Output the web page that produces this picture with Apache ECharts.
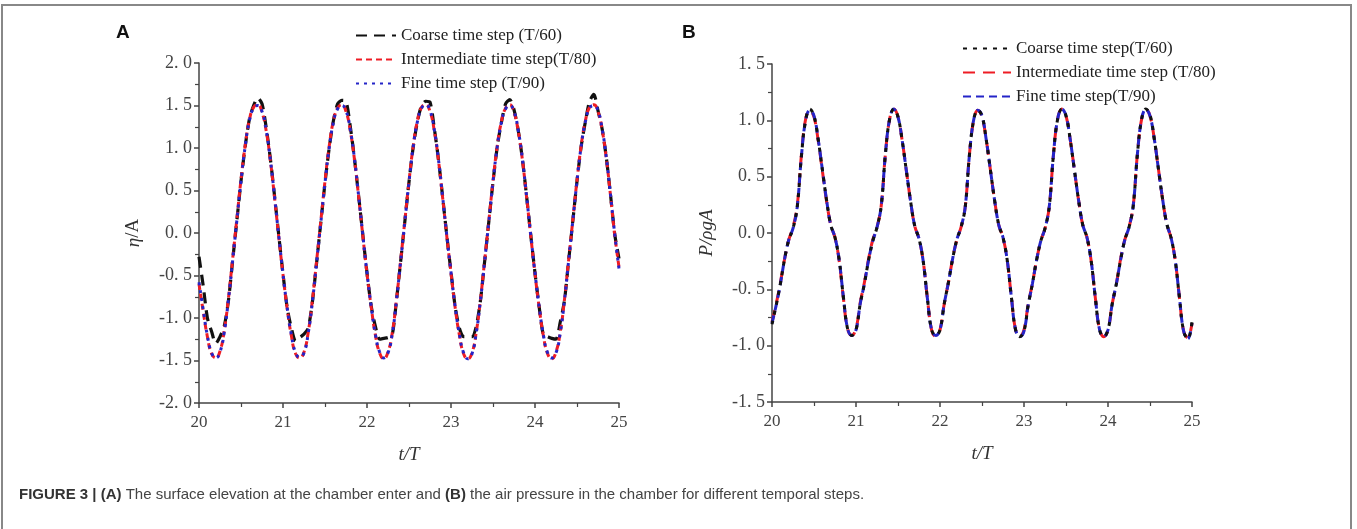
<!DOCTYPE html>
<html>
<head>
<meta charset="utf-8">
<script src="https://cdn.jsdelivr.net/npm/echarts@6/dist/echarts.min.js"></script>
<style>
html,body{margin:0;padding:0;background:#fff;}
#chart{width:1357px;height:529px;}
</style>
</head>
<body>
<div id="chart"></div>
<script>
// ---------- data ----------
const TIMES = [
20.00,20.05,20.10,20.15,20.20,20.25,20.30,20.35,20.40,20.45,20.50,20.55,20.60,20.65,20.70,20.75,20.80,20.85,20.90,20.95,
21.00,21.05,21.10,21.15,21.20,21.25,21.30,21.35,21.40,21.45,21.50,21.55,21.60,21.65,21.70,21.75,21.80,21.85,21.90,21.95,
22.00,22.05,22.10,22.15,22.20,22.25,22.30,22.35,22.40,22.45,22.50,22.55,22.60,22.65,22.70,22.75,22.80,22.85,22.90,22.95,
23.00,23.05,23.10,23.15,23.20,23.25,23.30,23.35,23.40,23.45,23.50,23.55,23.60,23.65,23.70,23.75,23.80,23.85,23.90,23.95,
24.00,24.05,24.10,24.15,24.20,24.25,24.30,24.35,24.40,24.45,24.50,24.55,24.60,24.65,24.70,24.75,24.80,24.85,24.90,24.95,
25.00];

// Panel A: surface elevation eta/A
const A_COARSE = [
-0.28,-0.62,-1.00,-1.16,-1.30,-1.22,-1.10,-0.80,-0.33,0.14,0.61,1.02,1.34,1.50,1.59,1.52,1.24,0.87,0.43,-0.03,
-0.48,-0.88,-1.12,-1.27,-1.23,-1.19,-1.12,-0.81,-0.35,0.12,0.59,1.00,1.32,1.52,1.56,1.55,1.26,0.88,0.44,-0.02,
-0.47,-0.86,-1.10,-1.25,-1.24,-1.23,-1.20,-0.80,-0.34,0.13,0.60,1.01,1.31,1.50,1.55,1.54,1.24,0.87,0.43,-0.03,
-0.46,-0.87,-1.12,-1.22,-1.22,-1.22,-1.10,-0.80,-0.34,0.13,0.60,1.01,1.30,1.52,1.57,1.45,1.21,0.87,0.43,-0.03,
-0.47,-0.87,-1.20,-1.22,-1.24,-1.25,-1.05,-0.80,-0.33,0.14,0.61,1.02,1.31,1.55,1.63,1.44,1.22,0.88,0.44,-0.02,
-0.30];
const A_INTER = [
-0.60,-0.92,-1.22,-1.42,-1.47,-1.39,-1.15,-0.77,-0.31,0.16,0.63,1.03,1.33,1.48,1.51,1.42,1.20,0.85,0.41,-0.05,
-0.49,-0.89,-1.21,-1.42,-1.47,-1.40,-1.17,-0.79,-0.33,0.14,0.61,1.02,1.32,1.47,1.51,1.43,1.21,0.87,0.43,-0.03,
-0.48,-0.87,-1.20,-1.41,-1.48,-1.40,-1.18,-0.79,-0.33,0.14,0.61,1.02,1.32,1.48,1.51,1.43,1.21,0.86,0.42,-0.04,
-0.47,-0.88,-1.20,-1.42,-1.48,-1.41,-1.17,-0.79,-0.33,0.14,0.61,1.02,1.31,1.47,1.51,1.42,1.20,0.86,0.42,-0.04,
-0.48,-0.88,-1.21,-1.42,-1.48,-1.40,-1.17,-0.79,-0.32,0.15,0.62,1.03,1.32,1.48,1.51,1.43,1.21,0.87,0.43,-0.03,
-0.40];
const A_FINE = [
-0.58,-0.90,-1.21,-1.41,-1.47,-1.40,-1.17,-0.79,-0.33,0.14,0.61,1.02,1.32,1.47,1.50,1.43,1.21,0.86,0.42,-0.04,
-0.48,-0.88,-1.20,-1.41,-1.46,-1.41,-1.18,-0.81,-0.35,0.12,0.59,1.00,1.30,1.46,1.50,1.44,1.22,0.88,0.44,-0.02,
-0.47,-0.86,-1.19,-1.40,-1.47,-1.41,-1.19,-0.80,-0.34,0.13,0.60,1.01,1.31,1.47,1.51,1.44,1.22,0.87,0.43,-0.03,
-0.46,-0.87,-1.19,-1.41,-1.48,-1.42,-1.18,-0.80,-0.34,0.13,0.60,1.01,1.30,1.46,1.50,1.43,1.21,0.87,0.43,-0.03,
-0.47,-0.87,-1.20,-1.41,-1.47,-1.41,-1.18,-0.80,-0.33,0.14,0.61,1.02,1.31,1.47,1.50,1.44,1.22,0.88,0.44,-0.02,
-0.42];

// Panel B: air pressure P/(rho g A)
const B_COARSE = [
-0.81,-0.64,-0.45,-0.23,-0.06,0.04,0.23,0.68,1.00,1.10,1.04,0.83,0.56,0.29,0.07,-0.04,-0.24,-0.57,-0.85,-0.91,
-0.86,-0.63,-0.45,-0.24,-0.07,0.05,0.24,0.70,1.01,1.10,1.03,0.82,0.55,0.28,0.06,-0.05,-0.25,-0.58,-0.86,-0.91,
-0.86,-0.63,-0.44,-0.23,-0.06,0.05,0.23,0.69,1.00,1.09,1.04,0.83,0.56,0.29,0.07,-0.04,-0.24,-0.57,-0.86,-0.92,
-0.87,-0.64,-0.45,-0.24,-0.07,0.04,0.23,0.69,1.01,1.10,1.04,0.83,0.56,0.29,0.07,-0.04,-0.25,-0.58,-0.86,-0.92,
-0.86,-0.63,-0.45,-0.24,-0.06,0.05,0.24,0.70,1.01,1.10,1.05,0.84,0.57,0.30,0.08,-0.04,-0.24,-0.57,-0.87,-0.94,
-0.79];
const B_INTER = [
-0.79,-0.63,-0.44,-0.23,-0.06,0.05,0.24,0.69,1.01,1.09,1.03,0.82,0.55,0.28,0.07,-0.04,-0.25,-0.58,-0.85,-0.91,
-0.85,-0.62,-0.44,-0.23,-0.06,0.05,0.24,0.70,1.01,1.10,1.03,0.82,0.55,0.28,0.06,-0.05,-0.25,-0.58,-0.86,-0.92,
-0.86,-0.63,-0.44,-0.23,-0.06,0.05,0.23,0.69,1.00,1.09,1.03,0.83,0.56,0.29,0.07,-0.04,-0.24,-0.57,-0.86,-0.92,
-0.86,-0.63,-0.45,-0.24,-0.07,0.04,0.23,0.69,1.01,1.10,1.04,0.83,0.56,0.29,0.07,-0.04,-0.25,-0.58,-0.86,-0.92,
-0.86,-0.63,-0.45,-0.23,-0.06,0.05,0.24,0.70,1.01,1.10,1.04,0.84,0.57,0.30,0.08,-0.04,-0.24,-0.57,-0.87,-0.93,
-0.80];
const B_FINE = [
-0.80,-0.64,-0.45,-0.23,-0.06,0.04,0.23,0.68,1.00,1.09,1.04,0.83,0.56,0.29,0.07,-0.04,-0.24,-0.57,-0.85,-0.91,
-0.86,-0.63,-0.45,-0.24,-0.07,0.05,0.24,0.70,1.01,1.10,1.03,0.82,0.55,0.28,0.06,-0.05,-0.25,-0.58,-0.86,-0.91,
-0.86,-0.63,-0.44,-0.23,-0.06,0.05,0.23,0.69,1.00,1.09,1.04,0.83,0.56,0.29,0.07,-0.04,-0.24,-0.57,-0.86,-0.92,
-0.87,-0.64,-0.45,-0.24,-0.07,0.04,0.23,0.69,1.01,1.10,1.04,0.83,0.56,0.29,0.07,-0.04,-0.25,-0.58,-0.86,-0.92,
-0.86,-0.63,-0.45,-0.24,-0.06,0.05,0.24,0.70,1.01,1.10,1.04,0.84,0.57,0.30,0.08,-0.04,-0.24,-0.57,-0.87,-0.94,
-0.80];

const NAMES_A = ['Coarse time step (T/60)', 'Intermediate time step(T/80)', 'Fine time step (T/90)'];
const NAMES_B = ['Coarse time step(T/60)', 'Intermediate time step (T/80)', 'Fine time step(T/90)'];

const X_TICKS = [20, 21, 22, 23, 24, 25];
const X_TICK_LABELS = ['20', '21', '22', '23', '24', '25'];
const YA_TICKS = [-2, -1.5, -1, -0.5, 0, 0.5, 1, 1.5, 2];
const YA_TICK_LABELS = ['-2. 0', '-1. 5', '-1. 0', '-0. 5', '0. 0', '0. 5', '1. 0', '1. 5', '2. 0'];
const YB_TICKS = [-1.5, -1, -0.5, 0, 0.5, 1, 1.5];
const YB_TICK_LABELS = ['-1. 5', '-1. 0', '-0. 5', '0. 0', '0. 5', '1. 0', '1. 5'];

const CAPTION_BOLD1 = 'FIGURE 3 | (A)';
const CAPTION_PART1 = ' The surface elevation at the chamber enter and ';
const CAPTION_BOLD2 = '(B)';
const CAPTION_PART2 = ' the air pressure in the chamber for different temporal steps.';

// ---------- chart ----------
function pairs(ys) { return TIMES.map((t, i) => [t, ys[i]]); }
function labelFrom(ticks, labels) {
  return function (v) {
    for (let i = 0; i < ticks.length; i++) if (Math.abs(ticks[i] - v) < 1e-6) return labels[i];
    return '';
  };
}

const SERIF = 'Liberation Serif';
const BLACK = '#111111', RED = '#ee1c24', BLUE = '#2424c8';

const axisLineStyle = { color: '#444', width: 1.5 };

function xAxisCfg(gridIndex) {
  return {
    gridIndex, type: 'value', min: 20, max: 25, interval: 1,
    name: 't/T', nameLocation: 'middle', nameGap: 42,
    nameTextStyle: { fontFamily: SERIF, fontStyle: 'italic', fontSize: 19, color: '#333' },
    axisLine: { show: true, onZero: false, lineStyle: axisLineStyle },
    axisTick: { show: true, length: 5, lineStyle: { color: '#444', width: 1.5 } },
    minorTick: { show: true, splitNumber: 2, length: 4, lineStyle: { color: '#444', width: 1.2 } },
    axisLabel: { fontFamily: SERIF, fontSize: 17, color: '#444', margin: 11,
      formatter: labelFrom(X_TICKS, X_TICK_LABELS) },
    splitLine: { show: false }
  };
}
function yAxisCfg(gridIndex, min, max, ticks, labels, name, rich) {
  return {
    gridIndex, type: 'value', min, max, interval: 0.5,
    name, nameLocation: 'middle', nameGap: 56, nameRotate: 90,
    nameTextStyle: { fontFamily: SERIF, fontSize: 19, color: '#333', rich },
    axisLine: { show: true, onZero: false, lineStyle: axisLineStyle },
    axisTick: { show: true, length: 5, lineStyle: { color: '#444', width: 1.5 } },
    minorTick: { show: true, splitNumber: 2, length: 4, lineStyle: { color: '#444', width: 1.2 } },
    axisLabel: { fontFamily: SERIF, fontSize: 18, color: '#444', margin: 7,
      formatter: labelFrom(ticks, labels) },
    splitLine: { show: false }
  };
}

function lineSeries(name, xi, data, color, dash, width, smooth, z) {
  return {
    name, type: 'line', xAxisIndex: xi, yAxisIndex: xi, data: pairs(data),
    showSymbol: false, symbol: 'none', smooth, z,
    lineStyle: { color, width, type: dash, cap: 'butt' },
    itemStyle: { color },
    animation: false
  };
}

const chart = echarts.init(document.getElementById('chart'), null, { renderer: 'canvas' });
const legendText = { fontFamily: SERIF, fontSize: 17, color: '#222' };

chart.setOption({
  backgroundColor: '#ffffff',
  animation: false,
  title: {
    left: 14, top: 482,
    text: '{b|' + CAPTION_BOLD1 + '}{n|' + CAPTION_PART1 + '}{b|' + CAPTION_BOLD2 + '}{n|' + CAPTION_PART2 + '}',
    textStyle: {
      fontWeight: 'normal',
      rich: {
        b: { fontFamily: 'Liberation Sans', fontWeight: 'bold', fontSize: 15, color: '#333' },
        n: { fontFamily: 'Liberation Sans', fontWeight: 'normal', fontSize: 15, color: '#444' }
      }
    }
  },
  graphic: [
    { type: 'rect', silent: true, z: 0,
      shape: { x: 2, y: 5, width: 1349, height: 600 },
      style: { fill: 'none', stroke: '#888', lineWidth: 2 } },
    { type: 'text', left: 116, top: 23,
      style: { text: 'A', font: 'bold 19px "Liberation Sans"', fill: '#111' } },
    { type: 'text', left: 682, top: 23,
      style: { text: 'B', font: 'bold 19px "Liberation Sans"', fill: '#111' } }
  ],
  grid: [
    { left: 199, top: 63, width: 420, height: 340 },
    { left: 772, top: 64, width: 420, height: 338 }
  ],
  legend: [
    { data: NAMES_A, orient: 'vertical', left: 350, top: 22, itemWidth: 40, itemHeight: 12,
      itemGap: 7, textStyle: legendText, itemStyle: { opacity: 0 } },
    { data: NAMES_B, orient: 'vertical', left: 957, top: 35, itemWidth: 48, itemHeight: 12,
      itemGap: 7, textStyle: legendText, itemStyle: { opacity: 0 } }
  ],
  xAxis: [xAxisCfg(0), xAxisCfg(1)],
  yAxis: [
    yAxisCfg(0, -2, 2, YA_TICKS, YA_TICK_LABELS, '{i|η}/A', { i: { fontFamily: SERIF, fontStyle: 'italic', fontSize: 19, color: '#333' } }),
    yAxisCfg(1, -1.5, 1.5, YB_TICKS, YB_TICK_LABELS, '{i|P/ρgA}', { i: { fontFamily: SERIF, fontStyle: 'italic', fontSize: 19, color: '#333' } })
  ],
  series: [
    lineSeries(NAMES_A[0], 0, A_COARSE, BLACK, [11, 7], 3.2, 0.25, 2),
    lineSeries(NAMES_A[1], 0, A_INTER, RED, [6, 4], 3, 0.5, 3),
    lineSeries(NAMES_A[2], 0, A_FINE, BLUE, [3, 5], 3, 0.5, 4),
    lineSeries(NAMES_B[1], 1, B_INTER, RED, [12, 8], 3, 0.4, 2),
    lineSeries(NAMES_B[2], 1, B_FINE, BLUE, [8, 5], 3, 0.4, 3),
    lineSeries(NAMES_B[0], 1, B_COARSE, BLACK, [4, 6], 3, 0.4, 4)
  ]
});
</script>
</body>
</html>
